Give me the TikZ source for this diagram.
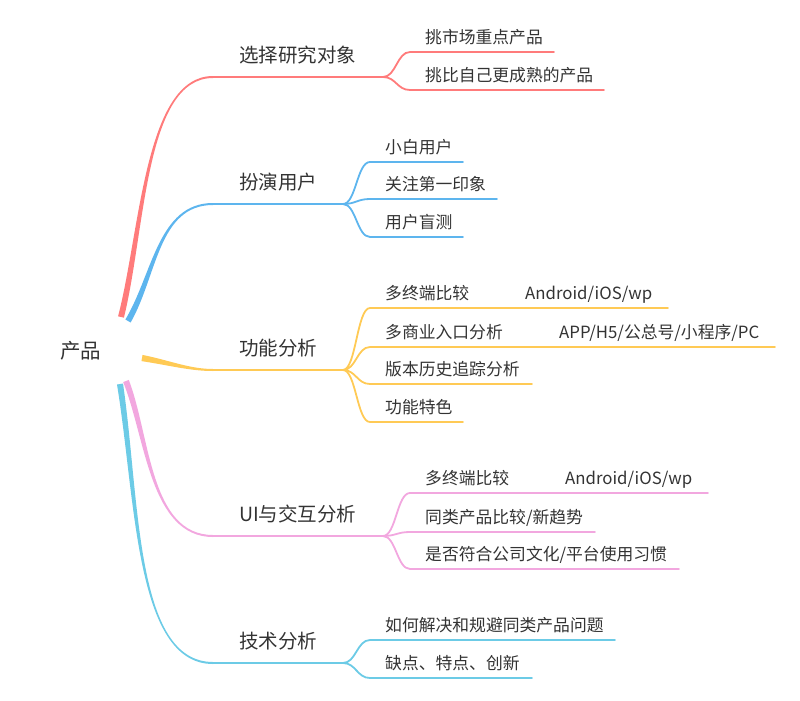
\documentclass[tikz,border=0pt]{standalone}
\usepackage{fontspec}
\setmainfont{Noto Sans CJK SC}
\usepackage{tikz}
\usetikzlibrary{calc}

\definecolor{redbr}{HTML}{FF7B7B}
\definecolor{bluebr}{HTML}{5DB5EE}
\definecolor{yellowbr}{HTML}{FFCA55}
\definecolor{pinkbr}{HTML}{F2A7DF}
\definecolor{cyanbr}{HTML}{6CCBE6}
\definecolor{txt}{HTML}{333333}

\begin{document}
\begin{tikzpicture}[x=1pt, y=-1pt,
    rootlabel/.style={anchor=base west, inner sep=0pt, text=txt, font=\fontsize{20.5}{20.5}\selectfont},
    topic/.style={anchor=base west, inner sep=0pt, text=txt, font=\fontsize{19.5}{19.5}\selectfont},
    sub/.style={anchor=base west, inner sep=0pt, text=txt, font=\fontsize{16.8}{16.8}\selectfont},
    limb/.style={line width=2pt, line cap=round},
    twig/.style={line width=1.8pt, line cap=round}]

  \useasboundingbox (0,0) rectangle (800,701);

  \node[rootlabel] (root) at (60,358.5) {产品};

  % main topics
  \node[topic] (sel)  at (239,62.5)  {选择研究对象};
  \node[topic] (user) at (239,189.5) {扮演用户};
  \node[topic] (func) at (239,355.5) {功能分析};
  \node[topic] (ui)   at (239,521.5) {UI与交互分析};
  \node[topic] (tech) at (239,648.5) {技术分析};

  % branch points
  \coordinate (selS)  at (121,317); \coordinate (selE)  at (213,77);  \coordinate (selP)  at (383,77);
  \coordinate (userS) at (128,321); \coordinate (userE) at (213,204); \coordinate (userP) at (343,204);
  \coordinate (funcS) at (142,358); \coordinate (funcE) at (213,370); \coordinate (funcP) at (343,370);
  \coordinate (uiS)   at (126,381); \coordinate (uiE)   at (213,536); \coordinate (uiP)   at (383,536);
  \coordinate (techS) at (120,384); \coordinate (techE) at (213,663); \coordinate (techP) at (343,663);

  % tapered limbs from the root
  \fill[redbr] ($(selS)+(-2.9,-0.7)$) .. controls (140.5,229.4) and (145,76) .. ($(selE)+(0,-1)$)
     -- ($(selE)+(0,1)$) .. controls (145,78) and (145.5,230.6) .. ($(selS)+(2.9,0.7)$) -- cycle;
  \draw[limb, redbr] (selE) -- (selP);

  \fill[bluebr] ($(userS)+(-2.6,-1.5)$) .. controls (152.8,273.7) and (158,203) .. ($(userE)+(0,-1)$)
     -- ($(userE)+(0,1)$) .. controls (158,205) and (157.2,276.3) .. ($(userS)+(2.6,1.5)$) -- cycle;
  \draw[limb, bluebr] (userE) -- (userP);

  \fill[yellowbr] ($(funcS)+(0.55,-3.1)$) .. controls (170.3,360.6) and (190,369) .. ($(funcE)+(0,-1)$)
     -- ($(funcE)+(0,1)$) .. controls (190,371) and (169.7,365.4) .. ($(funcS)+(-0.55,3.1)$) -- cycle;
  \draw[limb, yellowbr] (funcE) -- (funcP);

  \fill[cyanbr] ($(techS)+(3,-0.5)$) .. controls (140,499.7) and (135,662) .. ($(techE)+(0,-1)$)
     -- ($(techE)+(0,1)$) .. controls (135,664) and (136,500.3) .. ($(techS)+(-3,0.5)$) -- cycle;
  \draw[limb, cyanbr] (techE) -- (techP);

  \fill[pinkbr] ($(uiS)+(2.8,-1.1)$) .. controls (150.3,436.1) and (150,535) .. ($(uiE)+(0,-1)$)
     -- ($(uiE)+(0,1)$) .. controls (150,537) and (145.7,437.9) .. ($(uiS)+(-2.8,1.1)$) -- cycle;
  \draw[limb, pinkbr] (uiE) -- (uiP);

  % 选择研究对象
  \node[sub] (sel1) at (425,43.5) {挑市场重点产品};
  \node[sub] (sel2) at (425,81.5) {挑比自己更成熟的产品};
  \coordinate (sel1a) at (410,52); \coordinate (sel1b) at (554,52);
  \coordinate (sel2a) at (410,90); \coordinate (sel2b) at (604,90);
  \draw[twig, redbr] (selP) .. controls +(13,0) and +(-13,0) .. (sel1a) -- (sel1b);
  \draw[twig, redbr] (selP) .. controls +(13,0) and +(-13,0) .. (sel2a) -- (sel2b);

  % 扮演用户
  \node[sub] (user1) at (385,153.5) {小白用户};
  \node[sub] (user2) at (385,190.5) {关注第一印象};
  \node[sub] (user3) at (385,228.5) {用户盲测};
  \coordinate (user1a) at (370,162); \coordinate (user1b) at (463,162);
  \coordinate (user2a) at (370,199); \coordinate (user2b) at (497,199);
  \coordinate (user3a) at (370,237); \coordinate (user3b) at (463,237);
  \draw[twig, bluebr] (userP) .. controls +(13,0) and +(-13,0) .. (user1a) -- (user1b);
  \draw[twig, bluebr] (userP) .. controls +(13,0) and +(-13,0) .. (user2a) -- (user2b);
  \draw[twig, bluebr] (userP) .. controls +(13,0) and +(-13,0) .. (user3a) -- (user3b);

  % 功能分析
  \node[sub] (func1)  at (385,299.5) {多终端比较};
  \node[sub] (func1x) at (525,299.5) {Android/iOS/wp};
  \node[sub] (func2)  at (385,338.5) {多商业入口分析};
  \node[sub] (func2x) at (559,338.5) {APP/H5/公总号/小程序/PC};
  \node[sub] (func3)  at (385,375.5) {版本历史追踪分析};
  \node[sub] (func4)  at (385,413.5) {功能特色};
  \coordinate (func1a) at (370,308); \coordinate (func1b) at (668,308);
  \coordinate (func2a) at (370,347); \coordinate (func2b) at (775,347);
  \coordinate (func3a) at (370,384); \coordinate (func3b) at (532,384);
  \coordinate (func4a) at (370,422); \coordinate (func4b) at (463,422);
  \draw[twig, yellowbr] (funcP) .. controls +(13,0) and +(-13,0) .. (func1a) -- (func1b);
  \draw[twig, yellowbr] (funcP) .. controls +(13,0) and +(-13,0) .. (func2a) -- (func2b);
  \draw[twig, yellowbr] (funcP) .. controls +(13,0) and +(-13,0) .. (func3a) -- (func3b);
  \draw[twig, yellowbr] (funcP) .. controls +(13,0) and +(-13,0) .. (func4a) -- (func4b);

  % UI与交互分析
  \node[sub] (ui1)  at (425,484.5) {多终端比较};
  \node[sub] (ui1x) at (565,484.5) {Android/iOS/wp};
  \node[sub] (ui2)  at (425,523.5) {同类产品比较/新趋势};
  \node[sub] (ui3)  at (425,560.5) {是否符合公司文化/平台使用习惯};
  \coordinate (ui1a) at (410,493); \coordinate (ui1b) at (708,493);
  \coordinate (ui2a) at (410,532); \coordinate (ui2b) at (595,532);
  \coordinate (ui3a) at (410,569); \coordinate (ui3b) at (679,569);
  \draw[twig, pinkbr] (uiP) .. controls +(13,0) and +(-13,0) .. (ui1a) -- (ui1b);
  \draw[twig, pinkbr] (uiP) .. controls +(13,0) and +(-13,0) .. (ui2a) -- (ui2b);
  \draw[twig, pinkbr] (uiP) .. controls +(13,0) and +(-13,0) .. (ui3a) -- (ui3b);

  % 技术分析
  \node[sub] (tech1) at (385,631.5) {如何解决和规避同类产品问题};
  \node[sub] (tech2) at (385,669.5) {缺点、特点、创新};
  \coordinate (tech1a) at (370,640); \coordinate (tech1b) at (615,640);
  \coordinate (tech2a) at (370,678); \coordinate (tech2b) at (532,678);
  \draw[twig, cyanbr] (techP) .. controls +(13,0) and +(-13,0) .. (tech1a) -- (tech1b);
  \draw[twig, cyanbr] (techP) .. controls +(13,0) and +(-13,0) .. (tech2a) -- (tech2b);
\end{tikzpicture}
\end{document}
